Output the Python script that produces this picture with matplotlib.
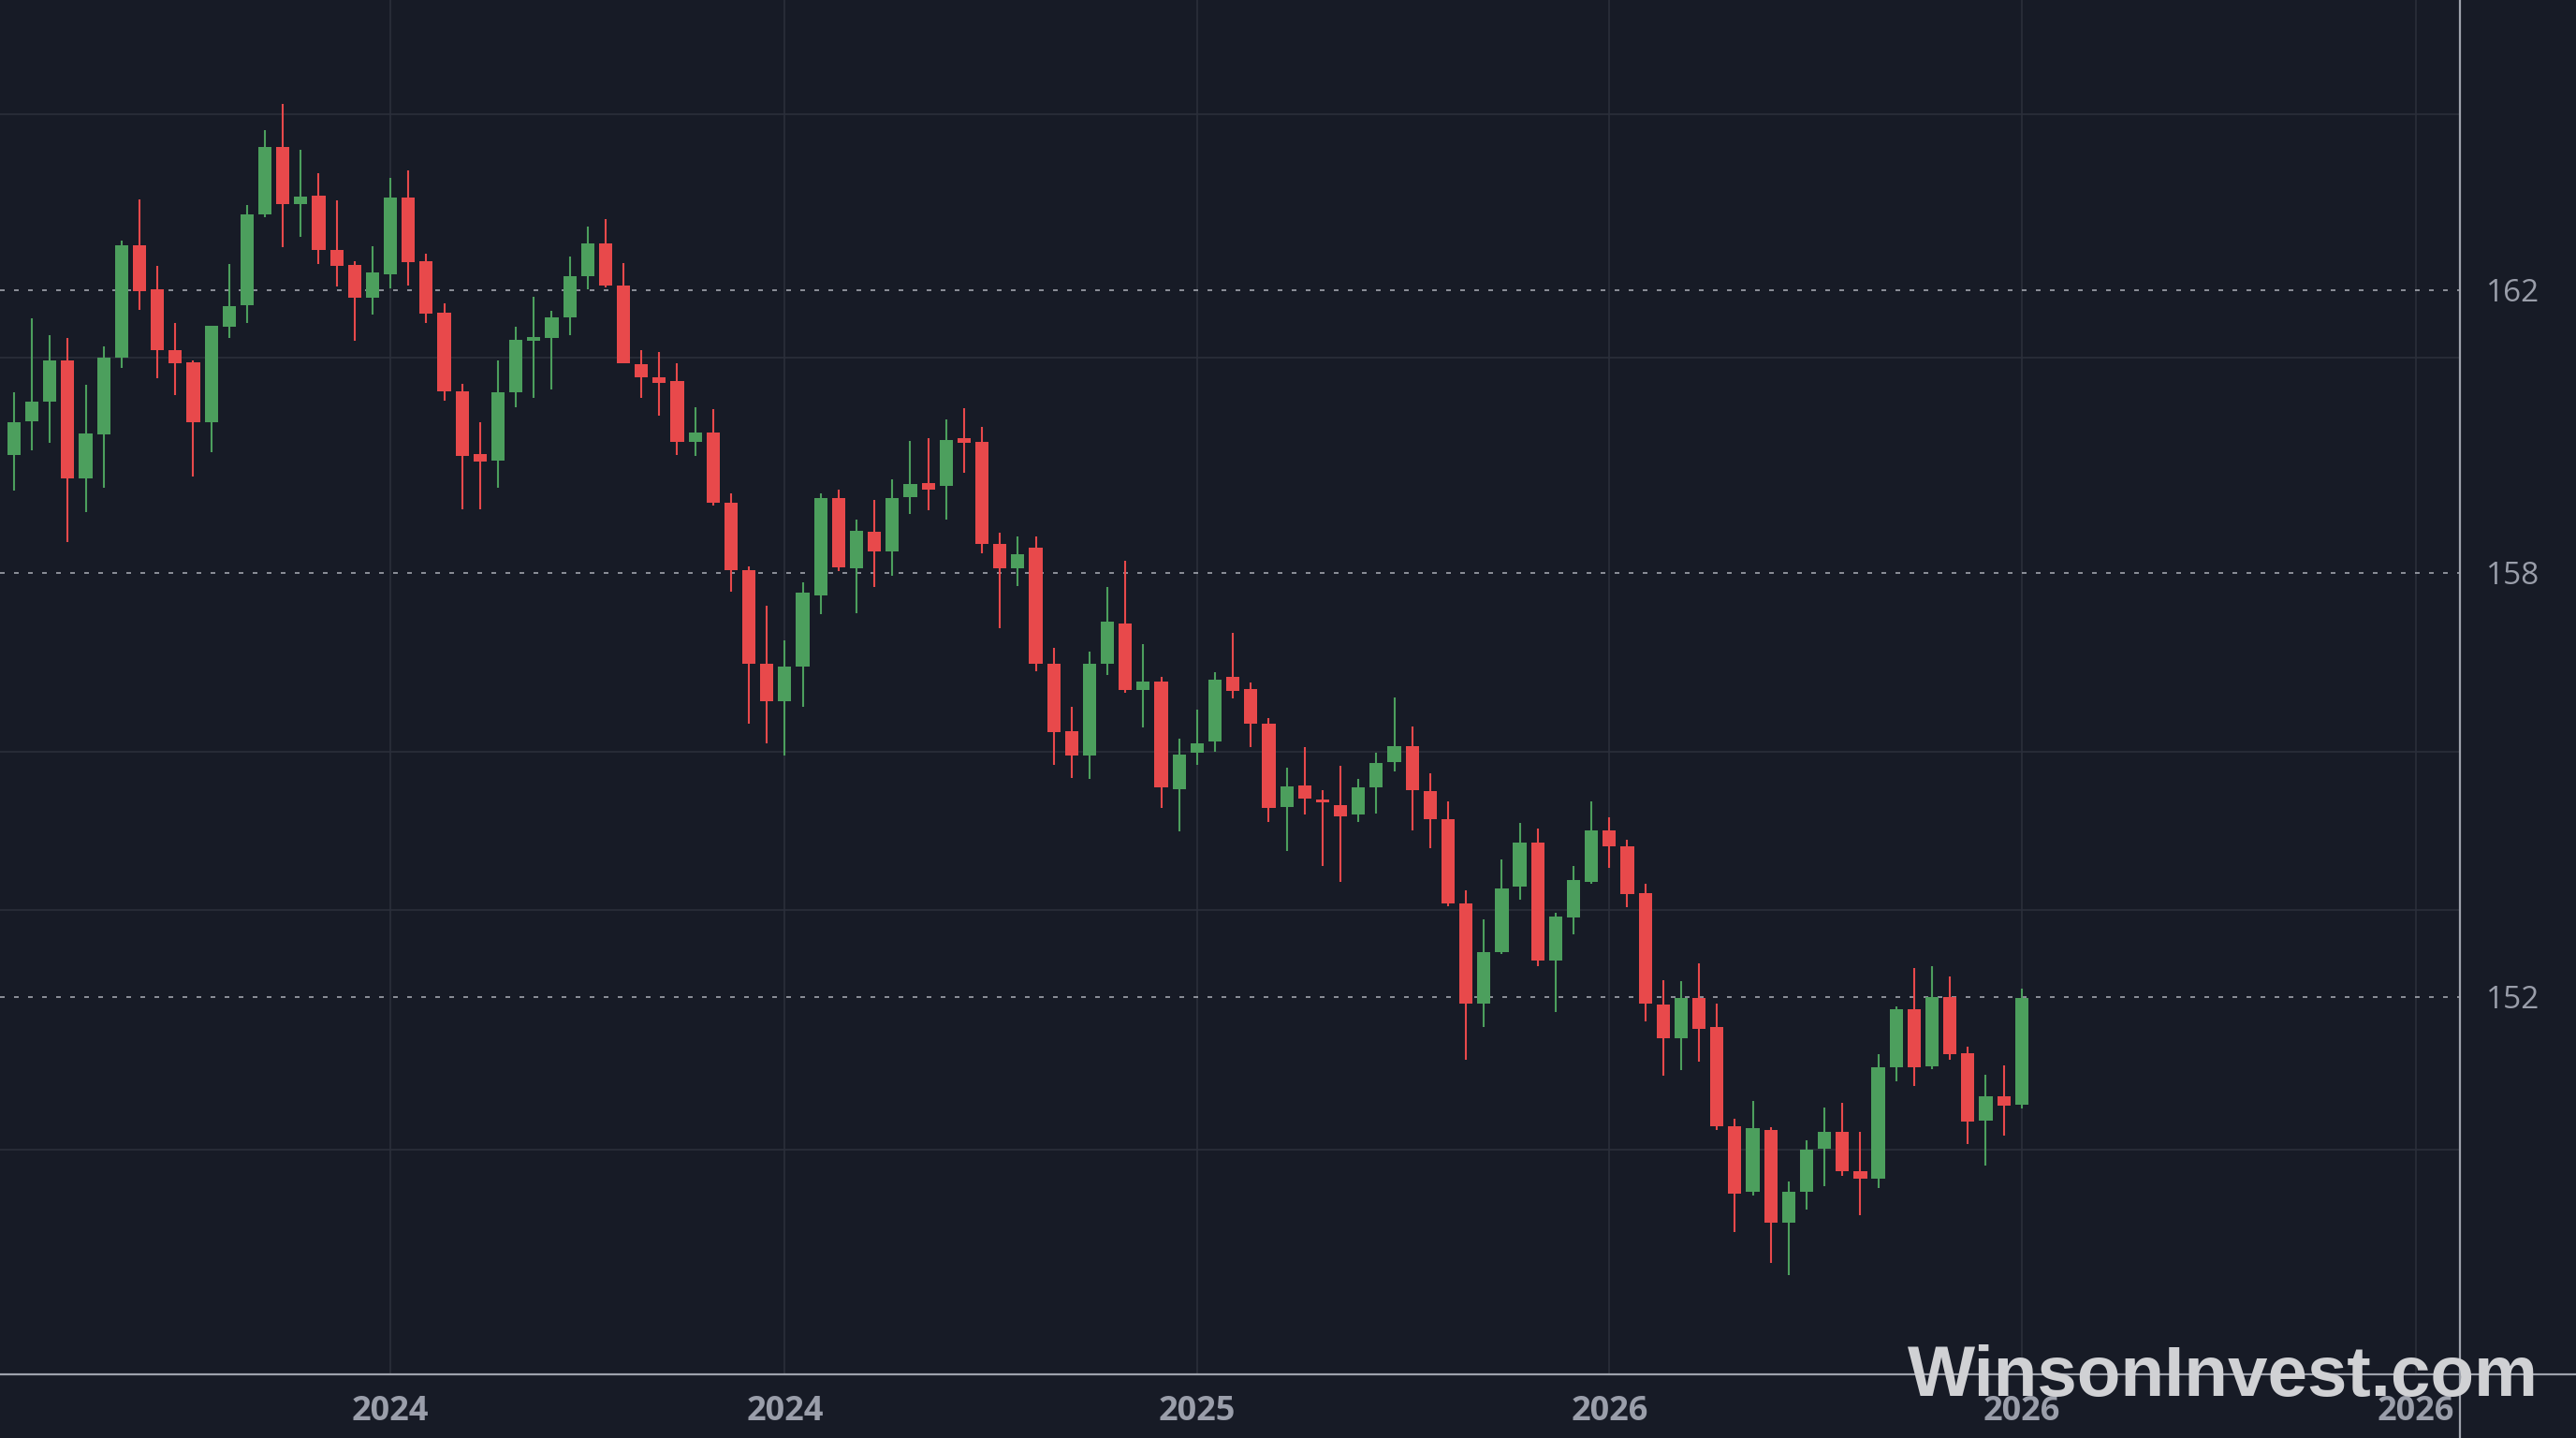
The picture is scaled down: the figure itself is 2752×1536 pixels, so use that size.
import matplotlib
matplotlib.use('Agg')
import matplotlib.pyplot as plt
import numpy as np
from matplotlib.lines import Line2D

# ---------------- data ----------------
opens = [159.67, 160.14, 160.42, 161.01, 159.34, 159.96, 161.05, 162.63, 162.01, 161.15,
         160.98, 160.13, 161.48, 161.79, 163.07, 164.03, 163.22, 163.34, 162.57, 162.36,
         161.90, 162.22, 163.31, 162.41, 161.68, 160.57, 159.68, 159.59, 160.55, 161.29,
         161.32, 161.61, 162.20, 162.66, 162.07, 160.95, 160.77, 160.71, 159.86, 159.99,
         158.99, 158.04, 156.72, 156.19, 156.68, 157.68, 159.06, 158.06, 158.58, 158.31,
         159.07, 159.27, 159.23, 159.90, 159.86, 158.41, 158.06, 158.36, 156.72, 155.76,
         155.41, 156.71, 157.29, 156.34, 156.46, 154.94, 155.45, 155.61, 156.53, 156.36,
         155.87, 154.69, 154.99, 154.77, 154.72, 154.58, 154.97, 155.32, 155.55, 154.91,
         154.52, 153.32, 151.91, 152.64, 153.56, 154.18, 152.51, 153.13, 153.63, 154.35,
         154.13, 153.47, 151.89, 151.41, 151.99, 151.57, 150.17, 149.24, 150.12, 148.81,
         149.24, 149.85, 150.09, 149.54, 149.43, 151.01, 151.83, 151.02, 152.00, 151.20,
         150.25, 150.60, 150.48]
highs = [160.56, 161.60, 161.36, 161.33, 160.66, 161.20, 162.70, 163.29, 162.34, 161.54,
         161.00, 161.50, 162.37, 163.21, 164.27, 164.63, 163.99, 163.65, 163.27, 162.41,
         162.62, 163.59, 163.70, 162.52, 161.82, 160.68, 160.13, 161.00, 161.48, 161.91,
         161.71, 162.47, 162.90, 163.00, 162.39, 161.15, 161.12, 160.97, 160.35, 160.32,
         159.12, 158.09, 157.53, 157.04, 157.86, 159.12, 159.18, 158.75, 159.03, 159.32,
         159.87, 159.90, 160.17, 160.33, 160.06, 158.57, 158.52, 158.52, 156.94, 156.11,
         156.89, 157.80, 158.17, 156.99, 156.53, 155.66, 156.07, 156.59, 157.15, 156.45,
         155.94, 155.24, 155.53, 154.92, 155.27, 155.08, 155.45, 156.24, 155.83, 155.16,
         154.77, 153.51, 153.10, 153.94, 154.46, 154.38, 153.19, 153.85, 154.77, 154.54,
         154.23, 153.60, 152.24, 152.23, 152.48, 151.90, 150.27, 150.53, 150.16, 149.39,
         149.97, 150.43, 150.50, 150.09, 151.19, 151.87, 152.41, 152.44, 152.29, 151.29,
         150.90, 151.03, 152.12]
lows = [159.16, 159.73, 159.84, 158.43, 158.86, 159.20, 160.90, 161.72, 160.75, 160.52,
        159.37, 159.71, 161.33, 161.54, 163.03, 162.61, 162.76, 162.37, 162.05, 161.29,
        161.66, 162.03, 162.07, 161.53, 160.44, 158.90, 158.90, 159.21, 160.35, 160.48,
        160.60, 161.37, 162.01, 162.04, 160.96, 160.48, 160.22, 159.67, 159.66, 158.95,
        157.73, 155.86, 155.59, 155.42, 156.11, 157.41, 158.02, 157.43, 157.80, 157.96,
        158.83, 158.88, 158.75, 159.42, 158.28, 157.22, 157.82, 156.61, 155.29, 155.10,
        155.08, 156.56, 156.30, 155.82, 154.67, 154.34, 155.28, 155.47, 156.23, 155.54,
        154.48, 154.06, 154.58, 153.85, 153.63, 154.47, 154.60, 155.19, 154.35, 154.11,
        153.28, 151.11, 151.58, 152.61, 153.38, 152.44, 151.78, 152.89, 153.60, 153.83,
        153.27, 151.65, 150.89, 150.97, 151.09, 150.12, 148.68, 149.19, 148.24, 148.06,
        148.99, 149.32, 149.47, 148.91, 149.30, 150.81, 150.74, 150.98, 151.11, 149.92,
        149.61, 150.04, 150.42]
closes = [160.13, 160.42, 161.01, 159.34, 159.97, 161.05, 162.63, 161.99, 161.15, 160.96,
          160.13, 161.49, 161.78, 163.07, 164.03, 163.22, 163.33, 162.57, 162.35, 161.90,
          162.25, 163.31, 162.40, 161.67, 160.57, 159.66, 159.58, 160.55, 161.30, 161.31,
          161.62, 162.20, 162.66, 162.07, 160.96, 160.77, 160.69, 159.86, 159.99, 158.99,
          158.04, 156.72, 156.19, 156.67, 157.72, 159.06, 158.08, 158.59, 158.31, 159.06,
          159.26, 159.18, 159.88, 159.84, 158.41, 158.06, 158.27, 156.71, 155.75, 155.42,
          156.72, 157.31, 156.34, 156.46, 154.96, 155.43, 155.59, 156.49, 156.33, 155.86,
          154.67, 154.98, 154.81, 154.75, 154.55, 154.97, 155.31, 155.55, 154.93, 154.51,
          153.32, 151.91, 152.64, 153.54, 154.18, 152.51, 153.14, 153.66, 154.35, 154.13,
          153.46, 151.90, 151.41, 151.99, 151.55, 150.17, 149.22, 150.15, 148.81, 149.24,
          149.84, 150.09, 149.54, 149.43, 151.00, 151.83, 151.01, 152.00, 151.19, 150.23,
          150.60, 150.46, 151.99]

x_tick_pos = [21, 43, 66, 89, 112, 134]
x_tick_labels = ['2024', '2024', '2025', '2026', '2026', '2026']
price_ticks = [162, 158, 152]
price_labels = ['162', '158', '152']
minor_grid_levels = [164.49, 161.05, 155.47, 153.23, 149.84]
watermark = 'WinsonInvest.com'

# ---------------- style ----------------
BG = '#171b26'
GREEN = '#4c9f5d'
RED = '#e8494b'
GRID = '#2c303c'
DASH = '#b9bcc4'
AXIS = '#9ea2ac'
LABEL = '#9a9eaa'

W, H = 2752, 1536
fig = plt.figure(figsize=(W / 100, H / 100), dpi=100)
fig.patch.set_facecolor(BG)
ax_bottom_px = H - 1468
ax_right_px = 2628
ax = fig.add_axes([0, ax_bottom_px / H, ax_right_px / W, 1 - ax_bottom_px / H])
ax.set_facecolor(BG)

o = np.array(opens)
hi = np.array(highs)
lo = np.array(lows)
c = np.array(closes)
idx = np.arange(len(o))
cols = np.where(c >= o, GREEN, RED)

ax.vlines(idx, lo, hi, colors=cols, lw=1.5, zorder=3)
body_b = np.minimum(o, c)
body_h = np.maximum(np.abs(c - o), 0.05)
ax.bar(idx, body_h, bottom=body_b, width=0.74, color=cols, linewidth=0, zorder=4)

ax.set_xlim(-0.78, 136.45)
ax.set_ylim(146.66, 166.106)

for v in minor_grid_levels:
    ax.axhline(v, color=GRID, lw=1.1, zorder=1)
for v in x_tick_pos:
    ax.axvline(v, color=GRID, lw=1.1, zorder=1)
for v in price_ticks:
    ax.axhline(v, color=DASH, lw=1.2, ls=(0, (3, 6)), alpha=0.85, zorder=2)

ax.yaxis.tick_right()
ax.set_yticks(price_ticks)
ax.set_yticklabels(price_labels)
ax.tick_params(axis='y', length=0, pad=20, labelsize=24, labelcolor=LABEL)
for t in ax.get_yticklabels():
    t.set_fontfamily(['Open Sans', 'DejaVu Sans'])

ax.set_xticks(x_tick_pos)
ax.set_xticklabels(x_tick_labels)
ax.tick_params(axis='x', length=0, pad=16, labelsize=26, labelcolor=LABEL)
for t in ax.get_xticklabels():
    t.set_fontfamily(['Open Sans', 'DejaVu Sans'])
    t.set_fontweight('bold')

for s in ax.spines.values():
    s.set_visible(False)

# axis lines spanning the figure
fig.add_artist(Line2D([0, 1], [ax_bottom_px / H] * 2, transform=fig.transFigure,
                      color=AXIS, lw=1.6, zorder=5))
fig.add_artist(Line2D([ax_right_px / W] * 2, [0, 1], transform=fig.transFigure,
                      color=AXIS, lw=1.6, zorder=5))

fig.text((2038 + 2712) / 2 / W, 1 - 1472 / H, watermark, ha='center', va='center',
         fontsize=55, fontweight='bold', color='#d0d1d4',
         family=['Liberation Sans', 'DejaVu Sans'], zorder=10)

fig.savefig('out.png', dpi=100, facecolor=BG)
